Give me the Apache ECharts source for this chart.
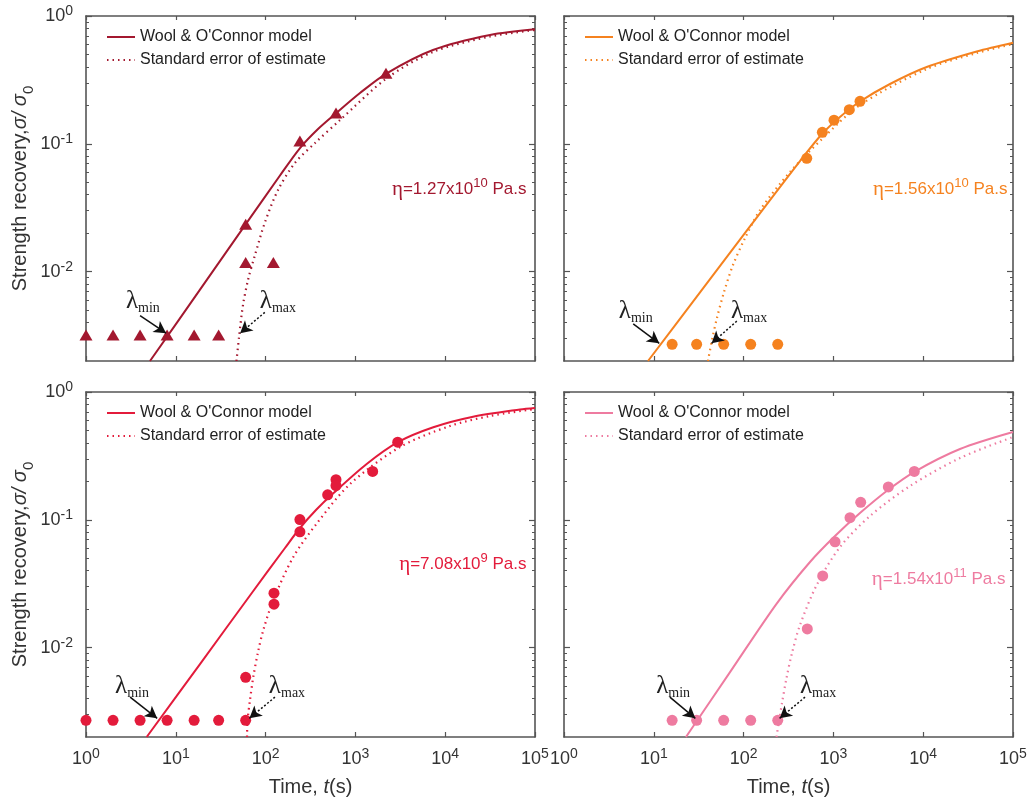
<!DOCTYPE html>
<html>
<head>
<meta charset="utf-8">
<title>Strength recovery</title>
<style>
  html, body { margin: 0; padding: 0; background: #fff; }
  #main { width: 1030px; height: 803px; }
</style>
</head>
<body>
<div id="main"></div>
<script src="https://cdn.jsdelivr.net/npm/echarts@6/dist/echarts.min.js"></script>
<script>
// ---- data (t in s, strength ratio) ----
var xTicks = [1, 10, 100, 1000, 10000, 100000];
var yMajor = [0.01, 0.1, 1];
var yMinor = [0.003, 0.004, 0.005, 0.006, 0.007, 0.008, 0.009,
              0.02, 0.03, 0.04, 0.05, 0.06, 0.07, 0.08, 0.09,
              0.2, 0.3, 0.4, 0.5, 0.6, 0.7, 0.8, 0.9];

var legendModel = "Wool & O'Connor model";
var legendSee = 'Standard error of estimate';

// top-left, NIST
var modelA = [[5.16, 0.0020], [18.6, 0.00723], [67, 0.0262], [144.6, 0.0565], [241.6, 0.0927], [383.5, 0.1306],
              [608, 0.1733], [1125, 0.2497], [2232, 0.356], [7311, 0.542], [31550, 0.710], [100000, 0.787]];
var seeA = [[47.4, 0.0020], [50.6, 0.00308], [56, 0.00548], [63.7, 0.0086], [76.2, 0.0135], [98.5, 0.0244],
            [137.5, 0.0435], [212, 0.0708], [355, 0.1015], [674, 0.1535], [2248, 0.327], [7311, 0.523],
            [31550, 0.691], [100000, 0.777]];
var pointsA = [[1, 0.0032], [2, 0.0032], [4, 0.0032], [8, 0.0032], [16, 0.0032], [30, 0.0032],
               [60, 0.0235], [60, 0.0118], [122, 0.0118], [241, 0.105], [608, 0.174], [2190, 0.357]];

// top-right, SDGS
var modelB = [[8.62, 0.0020], [32.7, 0.00688], [117.8, 0.0226], [424.6, 0.0733], [746.5, 0.1193], [1183, 0.1621],
              [1977, 0.2143], [4268, 0.2938], [10940, 0.399], [39430, 0.5276], [100000, 0.618]];
var seeB = [[40.1, 0.0020], [44.5, 0.00292], [50.5, 0.00434], [60.5, 0.00692], [76.2, 0.01127], [103.8, 0.01833],
            [152.4, 0.0303], [328.6, 0.0602], [746.5, 0.109], [1977, 0.2012], [10940, 0.3847], [39430, 0.5134],
            [100000, 0.6036]];
var pointsB = [[16, 0.0027], [30, 0.0027], [60, 0.0027], [120, 0.0027], [240, 0.0027],
               [505, 0.077], [753, 0.123], [1016, 0.153], [1503, 0.185], [1978, 0.215]];

// bottom-left, SDGS
var modelC = [[4.74, 0.0020], [18.6, 0.00744], [67, 0.0256], [164.4, 0.0602], [241.6, 0.0863], [363.9, 0.1193],
              [567.5, 0.1612], [1336, 0.2733], [3005, 0.4064], [7374, 0.5297], [19870, 0.6373], [68070, 0.7296],
              [100000, 0.7497]];
var seeC = [[62.1, 0.0020], [62.9, 0.00267], [67, 0.00389], [72.9, 0.00589], [82.3, 0.00924], [94.3, 0.01374],
            [121.9, 0.02358], [203.5, 0.0512], [370.7, 0.0935], [871, 0.1905], [3140, 0.3712], [11300, 0.542],
            [31550, 0.649], [100000, 0.736]];
var pointsC = [[1, 0.0027], [2, 0.0027], [4, 0.0027], [8, 0.0027], [16, 0.0027], [30, 0.0027], [60, 0.0027],
               [60, 0.00586], [124, 0.0267], [124, 0.0219], [241, 0.1005], [241, 0.0806], [491, 0.157],
               [608, 0.206], [608, 0.185], [1556, 0.239], [2958, 0.405]];

// bottom-right, SDGS
var modelD = [[22.8, 0.0020], [70.6, 0.00644], [233.7, 0.02213], [548.8, 0.0468], [1042, 0.0747],
              [1977, 0.113], [4055, 0.1711], [7902, 0.2366], [25700, 0.3581], [100000, 0.4864]];
var seeD = [[232.5, 0.0020], [247.8, 0.00267], [267.7, 0.00369], [300.4, 0.00578], [345.9, 0.00907], [424.6, 0.01502],
            [651.6, 0.0309], [1183, 0.0612], [2558, 0.1071], [7128, 0.1838], [25700, 0.3045], [100000, 0.4446]];
var pointsD = [[16, 0.0027], [30, 0.0027], [60, 0.0027], [120, 0.0027], [240, 0.0027],
               [512, 0.014], [760, 0.0364], [1043, 0.0673], [1531, 0.104], [2014, 0.137], [4090, 0.181], [7960, 0.239]];

var limitValues = [0.0032, 0.0027, 0.0027, 0.0027];
var limitLabels = ['NIST detection limit', 'SDGS detection limit', 'SDGS detection limit', 'SDGS detection limit'];
var etaMantissa = ['1.27', '1.56', '7.08', '1.54'];
var etaExponent = ['10', '10', '9', '11'];

// ---- layout / styles ----
var FONT = '"Liberation Sans", Arial, Helvetica, sans-serif';
var SERIF = '"Liberation Serif", "Times New Roman", serif';
var AXIS = '#555';
var colors = ['#a3182f', '#f5821f', '#e31b3b', '#ee7ba0'];
var markers = ['triangle', 'circle', 'circle', 'circle'];
var grids = [{ left: 86, top: 16 }, { left: 564, top: 16 }, { left: 86, top: 392 }, { left: 564, top: 392 }];
var GW = 449, GH = 345;

// annotation anchors in data coordinates
var notes = [
  { lamMin: [4.3, 0.0059], lamMax: [137, 0.0059], arrMin: [[4.0, 0.00453], [7.8, 0.0033]],
    arrMax: [[98, 0.0048], [52, 0.0033]], eta: [81500, 0.044] },
  { lamMin: [6.3, 0.0049], lamMax: [115, 0.0049], arrMin: [[5.9, 0.0039], [11.5, 0.00275]],
    arrMax: [[84, 0.0041], [44, 0.00275]], eta: [88000, 0.044] },
  { lamMin: [3.25, 0.005], lamMax: [173, 0.005], arrMin: [[3.1, 0.0041], [6.2, 0.0028]],
    arrMax: [[127, 0.0041], [66, 0.0028]], eta: [81500, 0.045] },
  { lamMin: [16.4, 0.005], lamMax: [674, 0.005], arrMin: [[15.1, 0.0041], [29, 0.0028]],
    arrMax: [[483, 0.0041], [252, 0.0028]], eta: [83600, 0.0343] }
];

var models = [modelA, modelB, modelC, modelD];
var sees = [seeA, seeB, seeC, seeD];
var points = [pointsA, pointsB, pointsC, pointsD];

function powLabel(v) {
  var e = Math.round(Math.log10(v));
  return '{b|10}{s|' + e + '}';
}
var powRich = {
  b: { fontSize: 18, fontFamily: FONT, color: '#333' },
  s: { fontSize: 14, fontFamily: FONT, color: '#333', padding: [0, 0, 10, 0] }
};
function tag(name, i) { return name + new Array(i + 1).join('\u200b'); }
function untag(name) { return name.replace(/\u200b/g, ''); }

var myChart = echarts.init(document.getElementById('main'), null, { renderer: 'canvas' });

var option = {
  animation: false,
  backgroundColor: '#fff',
  grid: [], xAxis: [], yAxis: [], series: [], legend: []
};

grids.forEach(function (g, i) {
  var bottomRow = i >= 2, leftCol = i % 2 === 0, c = colors[i];
  option.grid.push({ left: g.left, top: g.top, width: GW, height: GH, containLabel: false });

  var xBase = {
    type: 'log', logBase: 10, gridIndex: i, min: 1, max: 100000,
    splitLine: { show: false }, minorTick: { show: false },
    axisLine: { show: true, onZero: false, lineStyle: { color: AXIS, width: 1.6 } }
  };
  option.xAxis.push(Object.assign({}, xBase, {
    position: 'bottom',
    axisTick: { show: true, inside: true, length: 5, customValues: xTicks, lineStyle: { color: AXIS, width: 1.2 } },
    axisLabel: { show: bottomRow, customValues: xTicks, formatter: powLabel, margin: 10, rich: powRich },
    name: bottomRow ? '{n|Time, }{i|t}{n|(s)}' : '',
    nameLocation: 'middle', nameGap: 40,
    nameTextStyle: { rich: {
      n: { fontSize: 20, fontFamily: FONT, color: '#333' },
      i: { fontSize: 20, fontFamily: FONT, fontStyle: 'italic', color: '#333' }
    } }
  }));
  option.xAxis.push(Object.assign({}, xBase, {
    position: 'top',
    axisTick: { show: true, inside: true, length: 4, customValues: xTicks, lineStyle: { color: AXIS, width: 1.2 } },
    axisLabel: { show: false }
  }));

  ['left', 'right'].forEach(function (side) {
    var showLab = side === 'left' && leftCol;
    option.yAxis.push({
      type: 'log', logBase: 10, gridIndex: i, min: 0.002, max: 1, position: side,
      splitLine: { show: false }, minorTick: { show: false },
      axisLine: { show: true, onZero: false, lineStyle: { color: AXIS, width: 1.6 } },
      axisTick: { show: true, inside: true, length: 6, customValues: yMajor, lineStyle: { color: AXIS, width: 1.2 } },
      axisLabel: { show: showLab, customValues: yMajor, formatter: powLabel, margin: 13, rich: powRich },
      name: showLab ? '{n|Strength recovery,}{g|\u03c3/ \u03c3}{d|0}' : '',
      nameLocation: 'middle', nameGap: 50, nameRotate: 90,
      nameTextStyle: { rich: {
        n: { fontSize: 20, fontFamily: FONT, color: '#333' },
        g: { fontSize: 20, fontFamily: FONT, fontStyle: 'italic', color: '#333' },
        d: { fontSize: 15, fontFamily: FONT, color: '#333', padding: [16, 0, 0, 0] }
      } }
    });
    option.yAxis.push({
      type: 'log', logBase: 10, gridIndex: i, min: 0.002, max: 1, position: side,
      splitLine: { show: false }, minorTick: { show: false },
      axisLine: { show: false },
      axisTick: { show: true, inside: true, length: 3, customValues: yMinor, lineStyle: { color: AXIS, width: 1 } },
      axisLabel: { show: false }
    });
  });

  var n = notes[i];
  var lamRich = {
    l: { fontSize: 25, fontFamily: SERIF, color: '#222' },
    s: { fontSize: 14, fontFamily: SERIF, color: '#222', padding: [14, 0, 0, 0] }
  };
  option.series.push({
    type: 'line', name: tag(legendModel, i), xAxisIndex: 2 * i, yAxisIndex: 4 * i,
    data: models[i], smooth: 0.3, symbol: 'none',
    lineStyle: { color: c, width: 2 }, itemStyle: { color: c }, z: 3,
    markLine: {
      silent: true, symbol: ['none', 'none'], symbolSize: [10, 12], animation: false,
      data: [
        { yAxis: limitValues[i], symbol: 'none', lineStyle: { color: '#cfcfcf', width: 1.6, type: 'solid' },
          label: { show: true, formatter: limitLabels[i], position: 'insideEndTop', distance: [2, 3],
                   color: '#9a9a9a', fontSize: 13, fontFamily: FONT } },
        [{ coord: n.arrMin[0], symbol: 'none', lineStyle: { color: '#111', width: 1.5, type: 'solid' }, label: { show: false } },
         { coord: n.arrMin[1], symbol: 'arrow' }],
        [{ coord: n.arrMax[0], symbol: 'none', lineStyle: { color: '#111', width: 1.5, type: [2, 2] }, label: { show: false } },
         { coord: n.arrMax[1], symbol: 'arrow' }]
      ]
    },
    markPoint: {
      silent: true, symbol: 'circle', symbolSize: 1, itemStyle: { color: 'rgba(0,0,0,0)' }, animation: false,
      data: [
        { coord: n.lamMin, label: { show: true, position: 'inside', formatter: '{l|\u03bb}{s|min}', rich: lamRich } },
        { coord: n.lamMax, label: { show: true, position: 'inside', formatter: '{l|\u03bb}{s|max}', rich: lamRich } },
        { coord: n.eta, label: { show: true, position: 'left', distance: 0,
          formatter: '{e|\u03b7}{b|=' + etaMantissa[i] + 'x10}{s|' + etaExponent[i] + '}{b| Pa.s}',
          rich: {
            e: { fontSize: 21, fontFamily: SERIF, color: c },
            b: { fontSize: 17, fontFamily: FONT, color: c },
            s: { fontSize: 13, fontFamily: FONT, color: c, padding: [0, 0, 12, 0] }
          } } }
      ]
    }
  });
  option.series.push({
    type: 'line', name: tag(legendSee, i), xAxisIndex: 2 * i, yAxisIndex: 4 * i,
    data: sees[i], smooth: 0.3, symbol: 'none',
    lineStyle: { color: c, width: 2.2, type: [1.5, 4] }, itemStyle: { color: c }, z: 3
  });
  option.series.push({
    type: 'scatter', name: 'data' + i, xAxisIndex: 2 * i, yAxisIndex: 4 * i,
    data: points[i], symbol: markers[i], symbolSize: markers[i] === 'triangle' ? [13, 11] : 11,
    itemStyle: { color: c, opacity: 1 }, z: 4
  });

  option.legend.push({
    left: g.left + 15, top: g.top + 8, orient: 'vertical',
    itemWidth: 28, itemHeight: 14, itemGap: 7, selectedMode: false,
    itemStyle: { color: 'rgba(0,0,0,0)', opacity: 0, borderWidth: 0 },
    data: [tag(legendModel, i), tag(legendSee, i)],
    formatter: untag,
    textStyle: { fontSize: 16, color: '#222', fontFamily: FONT }
  });
});

myChart.setOption(option);
window.onresize = myChart.resize;
</script>
</body>
</html>
